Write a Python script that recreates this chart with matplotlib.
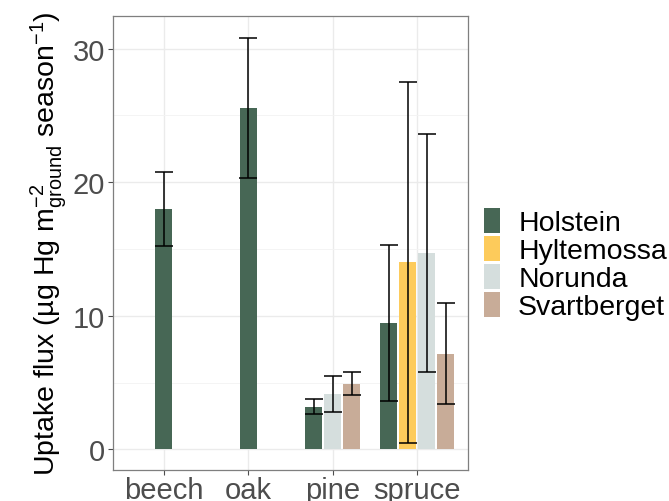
import numpy as np
import matplotlib
matplotlib.use("Agg")
import matplotlib.pyplot as plt
from matplotlib.patches import Patch

plt.rcParams['font.family'] = ['Liberation Sans', 'DejaVu Sans']
plt.rcParams['mathtext.fontset'] = 'custom'
plt.rcParams['mathtext.rm'] = 'Liberation Sans'

nan = np.nan
categories = ['beech', 'oak', 'pine', 'spruce']
sites = ['Holstein', 'Hyltemossa', 'Norunda', 'Svartberget']
colors = ['#476755', '#FDCB5B', '#D5DEDD', '#C8AC98']

holstein_mean = [18.0, 25.55, 3.2, 9.45]
holstein_err = [2.8, 5.25, 0.57, 5.87]
hyltemossa_mean = [nan, nan, nan, 14.0]
hyltemossa_err = [nan, nan, nan, 13.54]
norunda_mean = [nan, nan, 4.13, 14.72]
norunda_err = [nan, nan, 1.36, 8.9]
svartberget_mean = [nan, nan, 4.9, 7.17]
svartberget_err = [nan, nan, 0.87, 3.78]

means = [holstein_mean, hyltemossa_mean, norunda_mean, svartberget_mean]
errs = [holstein_err, hyltemossa_err, norunda_err, svartberget_err]

fig = plt.figure(figsize=(6.69, 5.02), dpi=100)
ax = fig.add_axes([113 / 669, 1 - 471 / 502, 355 / 669, 454 / 502])

width = 0.2
step = 0.225
for ci, cat in enumerate(categories):
    present = [si for si in range(len(sites)) if not np.isnan(means[si][ci])]
    n = len(present)
    for k, si in enumerate(present):
        x = ci + 1 + (k - (n - 1) / 2) * step
        ax.bar(x, means[si][ci], width=width, color=colors[si], zorder=2)
        ax.errorbar(x, means[si][ci], yerr=errs[si][ci], color='black',
                    linewidth=1.1, capsize=6.2, capthick=1.1, zorder=3)

ax.set_xlim(0.4, 4.6)
ax.set_ylim(-1.55, 32.45)
ax.set_xticks(range(1, 5))
ax.set_xticklabels(categories)
ax.set_yticks([0, 10, 20, 30])
ax.set_yticks([5, 15, 25], minor=True)
ax.grid(True, which='major', color='#EBEBEB', linewidth=1.0, zorder=0)
ax.grid(True, which='minor', axis='y', color='#F3F3F3', linewidth=0.6, zorder=0)
ax.set_axisbelow(True)
ax.tick_params(axis='both', which='major', labelsize=21, colors='#4D4D4D',
               length=3.5, width=0.8, pad=2)
ax.tick_params(axis='x', which='major', pad=1)
ax.tick_params(axis='both', which='minor', length=0)
for s in ax.spines.values():
    s.set_color('#7F7F7F')
    s.set_linewidth(0.9)

ax.set_ylabel(r'Uptake flux (µg Hg $\mathregular{m^{-2}_{ground}}$ season$\mathregular{^{-1}}$)',
              fontsize=20.5, color='black', labelpad=3)

handles = [Patch(facecolor=c, edgecolor='none') for c in colors]
fig.legend(handles, sites, loc='upper left', bbox_to_anchor=(484 / 669, 1 - 209 / 502),
           frameon=False, fontsize=20.5, handlelength=0.55, handleheight=0.95,
           labelspacing=0.0, handletextpad=0.65, borderpad=0, borderaxespad=0)

fig.savefig('out.png', dpi=100)
